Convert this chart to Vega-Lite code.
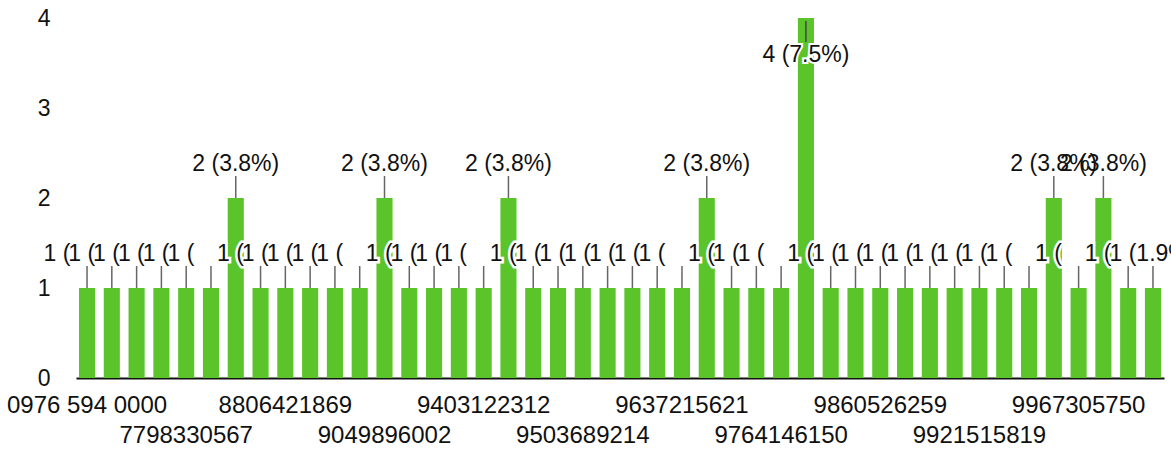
{
  "$schema": "https://vega.github.io/schema/vega-lite/v6.json",
  "width": 1088,
  "height": 360,
  "autosize": {"type": "none"},
  "padding": {"left": 76, "top": 18, "right": 7, "bottom": 76},
  "background": "white",
  "config": {
    "view": {"stroke": null},
    "font": "Liberation Sans",
    "text": {"font": "Liberation Sans"}
  },
  "data": {
    "values": [
      {"phone": "0976 594 0000", "count": 1, "label": "1 (1.9%)"},
      {"phone": "3012457789", "count": 1, "label": "1 (1.9%)"},
      {"phone": "5530981246", "count": 1, "label": "1 (1.9%)"},
      {"phone": "7012346685", "count": 1, "label": "1 (1.9%)"},
      {"phone": "7798330567", "count": 1, "label": "1 (1.9%)"},
      {"phone": "7891034452", "count": 1, "label": "1 (1.9%)"},
      {"phone": "8123650987", "count": 2, "label": "2 (3.8%)"},
      {"phone": "8530219946", "count": 1, "label": "1 (1.9%)"},
      {"phone": "8806421869", "count": 1, "label": "1 (1.9%)"},
      {"phone": "8874512036", "count": 1, "label": "1 (1.9%)"},
      {"phone": "8923017745", "count": 1, "label": "1 (1.9%)"},
      {"phone": "8990461238", "count": 1, "label": "1 (1.9%)"},
      {"phone": "9049896002", "count": 2, "label": "2 (3.8%)"},
      {"phone": "9110358724", "count": 1, "label": "1 (1.9%)"},
      {"phone": "9215607483", "count": 1, "label": "1 (1.9%)"},
      {"phone": "9318240651", "count": 1, "label": "1 (1.9%)"},
      {"phone": "9403122312", "count": 1, "label": "1 (1.9%)"},
      {"phone": "9431875620", "count": 2, "label": "2 (3.8%)"},
      {"phone": "9460213397", "count": 1, "label": "1 (1.9%)"},
      {"phone": "9487652014", "count": 1, "label": "1 (1.9%)"},
      {"phone": "9503689214", "count": 1, "label": "1 (1.9%)"},
      {"phone": "9540127836", "count": 1, "label": "1 (1.9%)"},
      {"phone": "9571836402", "count": 1, "label": "1 (1.9%)"},
      {"phone": "9605241873", "count": 1, "label": "1 (1.9%)"},
      {"phone": "9637215621", "count": 1, "label": "1 (1.9%)"},
      {"phone": "9668013452", "count": 2, "label": "2 (3.8%)"},
      {"phone": "9701548836", "count": 1, "label": "1 (1.9%)"},
      {"phone": "9738260194", "count": 1, "label": "1 (1.9%)"},
      {"phone": "9764146150", "count": 1, "label": "1 (1.9%)"},
      {"phone": "9780312745", "count": 4, "label": "4 (7.5%)"},
      {"phone": "9812506638", "count": 1, "label": "1 (1.9%)"},
      {"phone": "9835914207", "count": 1, "label": "1 (1.9%)"},
      {"phone": "9860526259", "count": 1, "label": "1 (1.9%)"},
      {"phone": "9874210563", "count": 1, "label": "1 (1.9%)"},
      {"phone": "9889603147", "count": 1, "label": "1 (1.9%)"},
      {"phone": "9903587214", "count": 1, "label": "1 (1.9%)"},
      {"phone": "9921515819", "count": 1, "label": "1 (1.9%)"},
      {"phone": "9930742186", "count": 1, "label": "1 (1.9%)"},
      {"phone": "9945218873", "count": 1, "label": "1 (1.9%)"},
      {"phone": "9951836024", "count": 2, "label": "2 (3.8%)"},
      {"phone": "9967305750", "count": 1, "label": "1 (1.9%)"},
      {"phone": "9972014583", "count": 2, "label": "2 (3.8%)"},
      {"phone": "9984631207", "count": 1, "label": "1 (1.9%)"},
      {"phone": "9998105462", "count": 1, "label": "1 (1.9%)"}
    ]
  },
  "encoding": {
    "x": {
      "field": "phone",
      "type": "nominal",
      "sort": null,
      "scale": {"paddingInner": 0.35, "paddingOuter": 0.12},
      "axis": {
        "title": null,
        "ticks": false,
        "domain": true,
        "domainColor": "#111111",
        "domainWidth": 2,
        "labelAngle": 0,
        "labelAlign": "center",
        "labelBaseline": "top",
        "labelOverlap": false,
        "labelBound": false,
        "labelFlush": false,
        "labelFontSize": 24,
        "labelColor": "#111111",
        "labelPadding": 15,
        "labelLineHeight": 30,
        "labelExpr": "(round(datum.index*43) % 4 == 0) ? ((round(datum.index*43) % 8 == 0) ? datum.label : ['', datum.label]) : ''"
      }
    }
  },
  "layer": [
    {
      "mark": {"type": "bar", "color": "#5cc42b"},
      "encoding": {
        "y": {
          "field": "count",
          "type": "quantitative",
          "scale": {"domain": [0, 4], "nice": false},
          "axis": {
            "title": null,
            "domain": false,
            "ticks": false,
            "grid": false,
            "values": [0, 1, 2, 3, 4],
            "format": "d",
            "labelFontSize": 23,
            "labelColor": "#111111",
            "labelPadding": 26
          }
        }
      }
    },
    {
      "transform": [{"filter": "datum.count < 4"}],
      "mark": {"type": "rule", "color": "#666666", "strokeWidth": 1.5, "y2Offset": -22},
      "encoding": {
        "y": {"field": "count", "type": "quantitative"},
        "y2": {"field": "count"}
      }
    },
    {
      "transform": [{"filter": "datum.count == 4"}],
      "mark": {"type": "rule", "color": "#444444", "strokeWidth": 1.5, "yOffset": 3, "y2Offset": 24},
      "encoding": {
        "y": {"field": "count", "type": "quantitative"},
        "y2": {"field": "count"}
      }
    },
    {
      "transform": [{"filter": "datum.count == 1 && datum.phone != '9998105462'"}],
      "mark": {"type": "text", "align": "left", "baseline": "middle", "dx": -43.5, "dy": -34, "fontSize": 23, "limit": 28, "ellipsis": "\u200b", "color": "white", "stroke": "white", "strokeWidth": 5},
      "encoding": {
        "y": {"field": "count", "type": "quantitative"},
        "text": {"field": "label"}
      }
    },
    {
      "transform": [{"filter": "datum.count == 1 && datum.phone != '9998105462'"}],
      "mark": {"type": "text", "align": "left", "baseline": "middle", "dx": -43.5, "dy": -34, "fontSize": 23, "limit": 28, "ellipsis": "\u200b", "color": "#111111"},
      "encoding": {
        "y": {"field": "count", "type": "quantitative"},
        "text": {"field": "label"}
      }
    },
    {
      "transform": [{"filter": "datum.count == 2 || datum.phone == '9998105462'"}],
      "mark": {"type": "text", "align": "center", "baseline": "middle", "dy": -34, "fontSize": 23, "color": "white", "stroke": "white", "strokeWidth": 5},
      "encoding": {
        "y": {"field": "count", "type": "quantitative"},
        "text": {"field": "label"}
      }
    },
    {
      "transform": [{"filter": "datum.count == 2 || datum.phone == '9998105462'"}],
      "mark": {"type": "text", "align": "center", "baseline": "middle", "dy": -34, "fontSize": 23, "color": "#111111"},
      "encoding": {
        "y": {"field": "count", "type": "quantitative"},
        "text": {"field": "label"}
      }
    },
    {
      "transform": [{"filter": "datum.count == 4"}],
      "mark": {"type": "text", "align": "center", "baseline": "middle", "dy": 37, "fontSize": 23, "color": "white", "stroke": "white", "strokeWidth": 4},
      "encoding": {
        "y": {"field": "count", "type": "quantitative"},
        "text": {"field": "label"}
      }
    },
    {
      "transform": [{"filter": "datum.count == 4"}],
      "mark": {"type": "text", "align": "center", "baseline": "middle", "dy": 37, "fontSize": 23, "color": "#111111"},
      "encoding": {
        "y": {"field": "count", "type": "quantitative"},
        "text": {"field": "label"}
      }
    }
  ]
}
